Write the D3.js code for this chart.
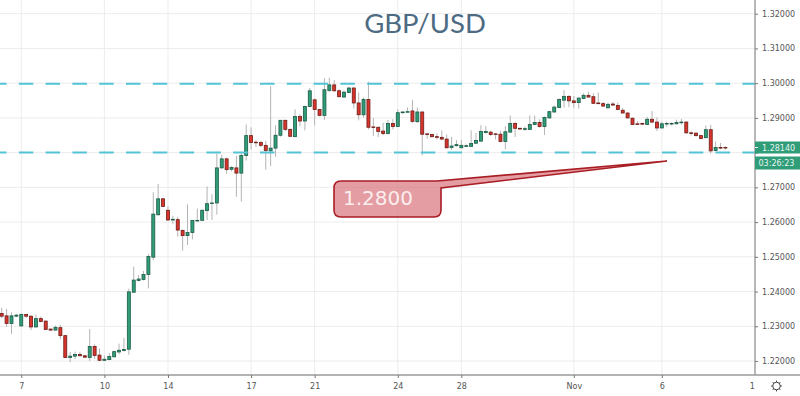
<!DOCTYPE html>
<html>
<head>
<meta charset="utf-8">
<script src="https://d3js.org/d3.v7.min.js"></script>
<style>
  html, body { margin: 0; padding: 0; background: #fff; }
  svg { display: block; }
</style>
</head>
<body>
<svg id="chart"></svg>
<script>
// candles, one entry each
const opens = [
  1.2337,1.2330,1.2308,1.2329,1.2301,1.2334,1.2329,1.2298,1.2322,1.2315,
  1.2292,1.2289,1.2296,1.2273,1.2210,1.2214,1.2219,1.2215,1.2210,1.2242,
  1.2217,1.2202,1.2204,1.2212,1.2226,1.2230,1.2234,1.2398,1.2432,1.2435,
  1.2449,1.2499,1.2621,1.2667,1.2634,1.2606,1.2607,1.2576,1.2561,1.2570,
  1.2604,1.2605,1.2633,1.2654,1.2655,1.2756,1.2782,1.2752,1.2756,1.2741,
  1.2792,1.2849,1.2830,1.2829,1.2821,1.2805,1.2813,1.2850,1.2893,1.2867,
  1.2846,1.2904,1.2891,1.2933,1.2952,1.2924,1.2907,1.2979,1.2995,1.2978,
  1.2960,1.2973,1.2986,1.2943,1.2909,1.2953,1.2874,1.2873,1.2862,1.2855,
  1.2884,1.2875,1.2915,1.2917,1.2920,1.2889,1.2917,1.2854,1.2852,1.2846,
  1.2844,1.2839,1.2815,1.2820,1.2814,1.2818,1.2818,1.2827,1.2833,1.2858,
  1.2859,1.2854,1.2853,1.2832,1.2859,1.2884,1.2870,1.2867,1.2867,1.2881,
  1.2887,1.2875,1.2900,1.2917,1.2930,1.2951,1.2962,1.2949,1.2944,1.2956,
  1.2965,1.2961,1.2943,1.2941,1.2929,1.2940,1.2936,1.2922,1.2914,1.2899,
  1.2883,1.2884,1.2881,1.2896,1.2888,1.2871,1.2883,1.2883,1.2883,1.2886,
  1.2888,1.2857,1.2856,1.2849,1.2843,1.2866,1.2806,1.2815,1.2815
];
const closes = [
  1.2329,1.2308,1.2330,1.2332,1.2334,1.2329,1.2298,1.2322,1.2314,1.2291,
  1.2289,1.2297,1.2273,1.2210,1.2214,1.2219,1.2215,1.2211,1.2242,1.2216,
  1.2202,1.2205,1.2213,1.2227,1.2231,1.2233,1.2399,1.2433,1.2436,1.2449,
  1.2501,1.2623,1.2667,1.2645,1.2606,1.2608,1.2577,1.2561,1.2570,1.2605,
  1.2605,1.2634,1.2653,1.2655,1.2756,1.2782,1.2751,1.2757,1.2741,1.2792,
  1.2849,1.2829,1.2829,1.2821,1.2806,1.2813,1.2850,1.2893,1.2867,1.2847,
  1.2904,1.2891,1.2933,1.2978,1.2924,1.2907,1.2981,1.2995,1.2978,1.2961,
  1.2974,1.2986,1.2943,1.2909,1.2953,1.2873,1.2873,1.2861,1.2855,1.2884,
  1.2875,1.2915,1.2917,1.2918,1.2890,1.2917,1.2853,1.2852,1.2846,1.2844,
  1.2839,1.2814,1.2819,1.2823,1.2821,1.2820,1.2826,1.2835,1.2861,1.2861,
  1.2852,1.2853,1.2832,1.2860,1.2884,1.2870,1.2868,1.2869,1.2881,1.2887,
  1.2875,1.2901,1.2918,1.2931,1.2953,1.2962,1.2949,1.2944,1.2957,1.2965,
  1.2960,1.2942,1.2941,1.2934,1.2939,1.2937,1.2924,1.2914,1.2900,1.2881,
  1.2882,1.2882,1.2896,1.2888,1.2871,1.2883,1.2884,1.2884,1.2887,1.2888,
  1.2857,1.2856,1.2849,1.2841,1.2866,1.2805,1.2815,1.2813,1.2814
];
const highs = [
  1.2353,1.2350,1.2340,1.2336,1.2337,1.2336,1.2332,1.2334,1.2328,1.2316,
  1.2293,1.2302,1.2304,1.2274,1.2226,1.2227,1.2226,1.2218,1.2292,1.2247,
  1.2236,1.2216,1.2223,1.2230,1.2250,1.2267,1.2408,1.2472,1.2447,1.2459,
  1.2508,1.2686,1.2710,1.2670,1.2646,1.2618,1.2615,1.2579,1.2651,1.2606,
  1.2639,1.2636,1.2702,1.2680,1.2797,1.2794,1.2786,1.2761,1.2791,1.2799,
  1.2881,1.2873,1.2836,1.2834,1.2834,1.2992,1.2879,1.2894,1.2895,1.2869,
  1.2924,1.2911,1.2935,1.2986,1.2956,1.2926,1.3014,1.3016,1.3009,1.2983,
  1.2979,1.2990,1.2988,1.2973,1.2959,1.3004,1.2900,1.2875,1.2886,1.2894,
  1.2896,1.2925,1.2919,1.2930,1.2952,1.2930,1.2918,1.2857,1.2855,1.2855,
  1.2864,1.2852,1.2845,1.2836,1.2837,1.2824,1.2864,1.2857,1.2879,1.2876,
  1.2863,1.2855,1.2863,1.2876,1.2907,1.2888,1.2872,1.2875,1.2907,1.2907,
  1.2896,1.2904,1.2920,1.2936,1.2956,1.2980,1.2965,1.2963,1.2959,1.2971,
  1.2975,1.2971,1.2973,1.2946,1.2944,1.2946,1.2944,1.2929,1.2917,1.2901,
  1.2891,1.2886,1.2903,1.2920,1.2901,1.2889,1.2889,1.2887,1.2895,1.2897,
  1.2890,1.2861,1.2859,1.2851,1.2878,1.2880,1.2832,1.2828,1.2818
];
const lows = [
  1.2324,1.2298,1.2278,1.2327,1.2300,1.2324,1.2289,1.2297,1.2311,1.2290,
  1.2288,1.2288,1.2263,1.2209,1.2197,1.2206,1.2214,1.2209,1.2200,1.2206,
  1.2200,1.2200,1.2202,1.2211,1.2219,1.2227,1.2218,1.2397,1.2429,1.2432,
  1.2409,1.2490,1.2619,1.2643,1.2604,1.2594,1.2558,1.2518,1.2534,1.2550,
  1.2601,1.2604,1.2606,1.2606,1.2622,1.2754,1.2739,1.2746,1.2673,1.2659,
  1.2777,1.2809,1.2816,1.2816,1.2751,1.2761,1.2788,1.2846,1.2862,1.2845,
  1.2844,1.2876,1.2864,1.2931,1.2878,1.2905,1.2894,1.2975,1.2975,1.2959,
  1.2958,1.2971,1.2927,1.2893,1.2901,1.2867,1.2848,1.2845,1.2850,1.2852,
  1.2867,1.2874,1.2912,1.2915,1.2886,1.2886,1.2792,1.2840,1.2842,1.2838,
  1.2836,1.2812,1.2808,1.2817,1.2812,1.2816,1.2817,1.2826,1.2832,1.2855,
  1.2848,1.2838,1.2830,1.2809,1.2858,1.2845,1.2866,1.2863,1.2865,1.2879,
  1.2872,1.2851,1.2898,1.2915,1.2928,1.2930,1.2931,1.2929,1.2927,1.2954,
  1.2959,1.2940,1.2939,1.2932,1.2927,1.2934,1.2922,1.2913,1.2898,1.2880,
  1.2880,1.2880,1.2880,1.2884,1.2862,1.2870,1.2874,1.2878,1.2881,1.2881,
  1.2854,1.2849,1.2845,1.2838,1.2841,1.2797,1.2803,1.2810,1.2808
];

const priceTicks = [1.22, 1.23, 1.24, 1.25, 1.26, 1.27, 1.28, 1.29, 1.30, 1.31, 1.32];
// candle index of each time label, the last one has no grid line
const timeTicks = [4, 21, 34, 51, 64, 81, 94, 117, 135, 153.4];
const timeLabels = ["7", "10", "14", "17", "21", "24", "28", "Nov", "6", "1"];
const levels = [1.2998, 1.2800];
const lastPrice = "1.28140";
const countdown = "03:26:23";
const calloutText = "1.2800";

const w = 800;
const h = 396;
const plotRight = 755;
const plotBottom = 375;
const green = "#2f9d78";
const red = "#d8342c";

const svg = d3.select("#chart").attr("width", w).attr("height", h)
  .style("font-family", "'DejaVu Sans', sans-serif");

const x = d3.scaleLinear().domain([0, 148]).range([1.7, 725.4]);
const y = d3.scaleLinear().domain([1.22, 1.32]).range([361, 13.7]);

svg.append("clipPath").attr("id", "plot")
  .append("rect").attr("width", plotRight).attr("height", plotBottom);

// grid
const grid = svg.append("g").attr("stroke", "#ececec").attr("stroke-width", 1);
grid.selectAll(".h").data(priceTicks).join("line")
  .attr("x1", 0).attr("x2", plotRight)
  .attr("y1", d => y(d)).attr("y2", d => y(d));
grid.selectAll(".v").data(timeTicks.slice(0, -1)).join("line")
  .attr("x1", d => x(d)).attr("x2", d => x(d))
  .attr("y1", 0).attr("y2", plotBottom);

svg.append("text")
  .attr("x", 425).attr("y", 33)
  .attr("text-anchor", "middle")
  .style("font-family", "Lato, sans-serif")
  .style("font-size", "27.5px")
  .attr("fill", "#4d6b82")
  .text("GBP/USD");

const plot = svg.append("g").attr("clip-path", "url(#plot)");

// wicks then bodies
plot.selectAll(".wick").data(opens).join("line")
  .attr("stroke", "#b4b4b4").attr("stroke-width", 1)
  .attr("x1", (d, i) => x(i)).attr("x2", (d, i) => x(i))
  .attr("y1", (d, i) => y(highs[i])).attr("y2", (d, i) => y(lows[i]));

plot.selectAll(".body").data(opens).join("rect")
  .attr("x", (d, i) => x(i) - 1.5)
  .attr("width", 3)
  .attr("y", (d, i) => y(Math.max(d, closes[i])))
  .attr("height", (d, i) => Math.max(0.6, Math.abs(y(d) - y(closes[i]))))
  .attr("fill", (d, i) => closes[i] >= d ? green : red)
  .attr("stroke", (d, i) => closes[i] >= d ? "#1c5a46" : "#6d1d18")
  .attr("stroke-width", 0.8);

// support and resistance
plot.selectAll(".level").data(levels).join("line")
  .attr("x1", 0).attr("x2", plotRight)
  .attr("y1", d => y(d)).attr("y2", d => y(d))
  .attr("stroke", "#52c4d6").attr("stroke-width", 2)
  .attr("stroke-dasharray", "14.5 12.3")
  .attr("stroke-dashoffset", 8);

// callout
svg.append("path")
  .attr("d", "M341 181 L437 181 L667 161 L441 188 L441 210 Q441 217 434 217 L341 217 Q334 217 334 210 L334 188 Q334 181 341 181 Z")
  .attr("fill", "#d9747a").attr("fill-opacity", 0.7)
  .attr("stroke", "#a91d25").attr("stroke-width", 1.6);
svg.append("text")
  .attr("x", 343).attr("y", 205)
  .style("font-size", "20px")
  .attr("fill", "#fbeeee")
  .text(calloutText);

// price axis, the 1.28 label sits under the green tag
const yAxis = d3.axisRight(y).tickValues(priceTicks)
  .tickFormat(d => d === 1.28 ? "" : d3.format(".5f")(d)).tickSize(3).tickPadding(4);
const yG = svg.append("g").attr("transform", `translate(${plotRight},0)`).call(yAxis);
yG.select(".domain").attr("stroke", "#9a9a9a").attr("stroke-width", 1.4).attr("d", `M0,0V${plotBottom}`);
yG.selectAll(".tick line").attr("stroke", "#777");
yG.selectAll("text").attr("fill", "#555")
  .style("font-family", "'DejaVu Sans', sans-serif").style("font-size", "8px");

// time axis
const xAxis = d3.axisBottom(x).tickValues(timeTicks)
  .tickFormat((d, i) => timeLabels[i]).tickSize(3).tickPadding(5.5);
const xG = svg.append("g").attr("transform", `translate(0,${plotBottom})`).call(xAxis);
xG.select(".domain").attr("stroke", "#9a9a9a").attr("stroke-width", 1.4).attr("d", `M0,0H${w}`);
xG.selectAll(".tick line").attr("stroke", "#777");
xG.select(".tick:last-of-type line").remove();
xG.selectAll("text").attr("fill", "#555")
  .style("font-family", "'DejaVu Sans', sans-serif").style("font-size", "8px");

// last price label and countdown
const tags = svg.append("g").attr("transform", `translate(${plotRight},0)`);
tags.append("rect").attr("x", 0).attr("y", 141.5).attr("width", 45).attr("height", 12).attr("fill", green);
tags.append("rect").attr("x", 0).attr("y", 156.5).attr("width", 45).attr("height", 13).attr("fill", green);
tags.append("line").attr("x1", 0).attr("x2", 3).attr("y1", 147.5).attr("y2", 147.5).attr("stroke", "#e6f4ef");
tags.append("text").attr("x", 7).attr("y", 150.5).attr("fill", "#e8f5f0")
  .style("font-size", "8px").text(lastPrice);
tags.append("text").attr("x", 3.5).attr("y", 166).attr("fill", "#e8f5f0")
  .style("font-size", "8px").text(countdown);

// settings icon
const gear = svg.append("g").attr("transform", "translate(776.5,386)")
  .attr("stroke", "#444").attr("fill", "none");
gear.append("circle").attr("r", 3.8);
gear.selectAll("line").data(d3.range(8)).join("line")
  .attr("x1", d => 3.8 * Math.cos(d * Math.PI / 4)).attr("y1", d => 3.8 * Math.sin(d * Math.PI / 4))
  .attr("x2", d => 5.4 * Math.cos(d * Math.PI / 4)).attr("y2", d => 5.4 * Math.sin(d * Math.PI / 4));
</script>
</body>
</html>
